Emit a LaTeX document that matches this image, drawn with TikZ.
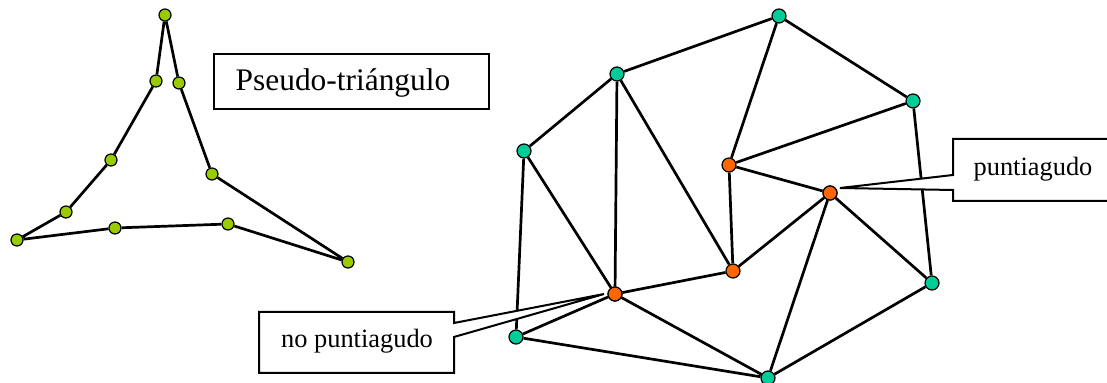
\documentclass[tikz,border=0pt]{standalone}
\usepackage{fontspec}
\setmainfont{Liberation Serif}
\definecolor{ygreen}{HTML}{99CC00}
\definecolor{tgreen}{HTML}{00CC99}
\definecolor{orng}{HTML}{FF6600}
\begin{document}
\begin{tikzpicture}[x=0.5pt,y=-0.5pt,
  pnode/.style={circle,draw=black,line width=0.6pt,fill=ygreen,minimum size=6pt,inner sep=0pt},
  gnode/.style={circle,draw=black,line width=0.6pt,fill=tgreen,minimum size=7pt,inner sep=0pt},
  onode/.style={circle,draw=black,line width=0.6pt,fill=orng,minimum size=7pt,inner sep=0pt},
  edge/.style={line width=1.35pt,black},
  callout/.style={draw=black,fill=white,line width=1pt},
  lbl/.style={font=\fontsize{13.2pt}{15pt}\selectfont,inner sep=0pt}]
\useasboundingbox (0,0) rectangle (1107,383);

% left pseudo-triangle
\node[pnode] (p1) at (165,15) {};
\node[pnode] (p2) at (179,83) {};
\node[pnode] (p3) at (212,174) {};
\node[pnode] (p4) at (348,262) {};
\node[pnode] (p5) at (228,224) {};
\node[pnode] (p6) at (115,228) {};
\node[pnode] (p7) at (17,240) {};
\node[pnode] (p8) at (66,212) {};
\node[pnode] (p9) at (111,160) {};
\node[pnode] (p10) at (156,81) {};
\draw[edge] (p1)--(p2) (p2)--(p3) (p3)--(p4) (p4)--(p5) (p5)--(p6) (p6)--(p7) (p7)--(p8) (p8)--(p9) (p9)--(p10) (p10)--(p1);

% title box
\draw[callout] (214,54) rectangle (489,109);
\node[font=\fontsize{15.7pt}{18pt}\selectfont,inner sep=0pt] (title) at (343,83) {Pseudo-triángulo};

% right graph nodes
\node[gnode] (A) at (617,74) {};
\node[gnode] (B) at (524,151) {};
\node[onode] (C) at (615,294) {};
\node[gnode] (D) at (516,337) {};
\node[onode] (E) at (733,271) {};
\node[onode] (F) at (729,165) {};
\node[gnode] (G) at (779,16) {};
\node[gnode] (H) at (913,101) {};
\node[onode] (I) at (830,193) {};
\node[gnode] (J) at (932,283) {};
\node[gnode] (K) at (768,378) {};

\draw[edge] (A)--(G) (A)--(B) (A)--(C) (A)--(E) (B)--(C) (B)--(D)
  (C)--(D) (C)--(E) (C)--(K) (D)--(K) (G)--(F) (G)--(H) (H)--(F)
  (H)--(J) (F)--(I) (F)--(E) (E)--(I) (I)--(K) (I)--(J) (J)--(K);

% callouts
\coordinate (tipP) at (840,188);
\draw[callout] (953,139) -- (1112,139) -- (1112,201) -- (953,201) -- (953,190) -- (tipP) -- (953,175) -- cycle;
\node[lbl] (lp) at (1033,169) {puntiagudo};

\coordinate (tipN) at (604,294);
\draw[callout] (259,312) -- (454,312) -- (454,323) -- (tipN) -- (454,337) -- (454,373) -- (259,373) -- cycle;
\node[lbl] (ln) at (357,341) {no puntiagudo};

% redraw nodes on top of callouts
\node[onode] at (C) {};
\node[onode] at (I) {};
\end{tikzpicture}
\end{document}
